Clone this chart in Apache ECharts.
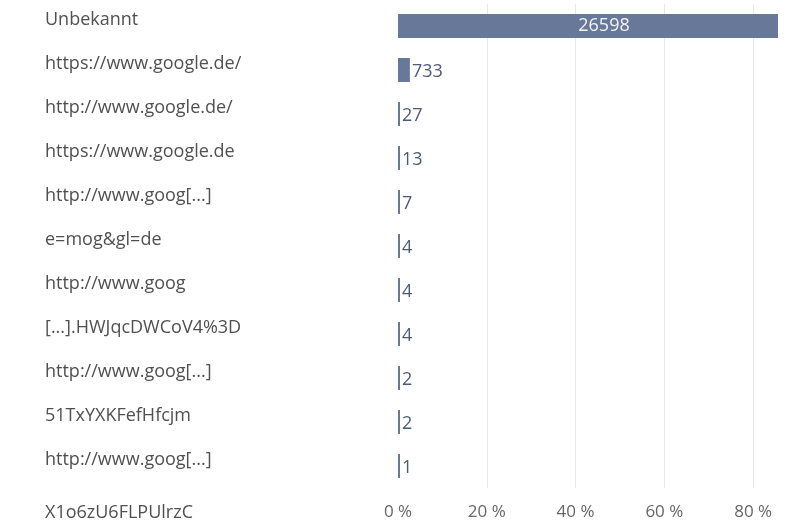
<!DOCTYPE html>
<html>
<head>
<meta charset="utf-8">
<script src="https://cdn.jsdelivr.net/npm/echarts@6/dist/echarts.min.js"></script>
<style>
  html, body { margin: 0; padding: 0; background: #fff; }
  #chart { width: 798px; height: 520px; }
</style>
</head>
<body>
<div id="chart"></div>
<script>
// referrers and hit counts (bars drawn as share of total)
const categories = [
  "Unbekannt",
  "https://www.google.de/",
  "http://www.google.de/",
  "https://www.google.de",
  "http://www.goog[...]",
  "e=mog&gl=de",
  "http://www.goog",
  "[...].HWJqcDWCoV4%3D",
  "http://www.goog[...]",
  "51TxYXKFefHfcjm",
  "http://www.goog[...]"
];
const counts = [26598, 733, 27, 13, 7, 4, 4, 4, 2, 2, 1];
const extraLabel = "X1o6zU6FLPUlrzC"; // cut-off row, bar not visible
const extraCount = 1;
const tickStep = 20;

const total = counts.reduce((a, b) => a + b, 0) + extraCount;
const shares = counts.map(c => c / total * 100);

const chart = echarts.init(document.getElementById("chart"));

const font = "'Open Sans', sans-serif";

const option = {
  animation: false,
  grid: {
    left: 398,
    right: 20,
    top: 4,
    bottom: 32,
    outerBoundsMode: "none"
  },
  xAxis: {
    type: "value",
    min: 0,
    max: 85.6,
    interval: tickStep,
    name: extraLabel,
    nameLocation: "start",
    nameGap: 353,
    nameTextStyle: {
      align: "left",
      verticalAlign: "top",
      padding: [16, 0, 0, 0],
      color: "#505050",
      fontSize: 18,
      fontFamily: font
    },
    axisLine: { show: false },
    axisTick: { show: false },
    axisLabel: {
      formatter: "{value} %",
      color: "#666",
      fontSize: 17,
      fontFamily: font,
      margin: 16,
      showMaxLabel: false
    },
    splitLine: {
      show: true,
      showMinLine: false,
      showMaxLine: false,
      lineStyle: { color: "#e8e8e8", width: 1 }
    }
  },
  yAxis: {
    type: "category",
    inverse: true,
    data: categories,
    axisLine: { show: false },
    axisTick: { show: false },
    axisLabel: {
      align: "left",
      margin: 353,
      color: "#505050",
      fontSize: 18,
      lineHeight: 12,
      fontFamily: font,
      formatter: v => v + "\n"
    }
  },
  series: [
    {
      type: "bar",
      barWidth: 24,
      barMinHeight: 2,
      itemStyle: { color: "#687899" },
      label: {
        show: true,
        position: "right",
        distance: 2,
        offset: [0, 2],
        color: "#4d5a78",
        fontSize: 18,
        fontFamily: font,
        formatter: p => counts[p.dataIndex]
      },
      data: shares.map((v, i) => i === 0
        ? { value: v, label: { position: "inside", color: "#f2f4f8", offset: [16, 0] } }
        : v)
    }
  ]
};

chart.setOption(option);
</script>
</body>
</html>
